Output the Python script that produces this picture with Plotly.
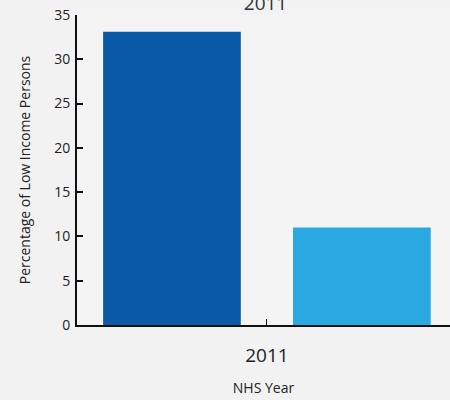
import plotly.graph_objects as go

categories = ["2011"]
series_names = ["Series A", "Series B"]
values_a = [33.1]
values_b = [11.0]
y_ticks = [0, 5, 10, 15, 20, 25, 30, 35]

fig = go.Figure()
fig.add_trace(go.Bar(x=categories, y=values_a, name=series_names[0],
                     marker=dict(color="#0b5aa8", line=dict(width=0))))
fig.add_trace(go.Bar(x=categories, y=values_b, name=series_names[1],
                     marker=dict(color="#2aa8e1", line=dict(width=0))))

font_family = "Open Sans, Lato, sans-serif"
fig.update_layout(
    width=450, height=400,
    margin=dict(l=77, r=0, t=15, b=75),
    paper_bgcolor="#f2f2f2",
    plot_bgcolor="#f4f4f4",
    barmode="group",
    bargap=0,
    bargroupgap=0.275,
    showlegend=False,
    font=dict(family=font_family, color="#222222"),
    title=dict(text="2011", x=0.59, xanchor="center", y=0.992, yanchor="middle",
               font=dict(size=19, color="#333333")),
    xaxis=dict(
        type="category",
        range=[-0.5, 0.482],
        showline=True, linecolor="#111111", linewidth=2,
        ticks="inside", ticklen=6, tickwidth=1, tickcolor="#111111",
        tickfont=dict(size=19, color="#222222"),
        ticklabelstandoff=12,
        showgrid=False, zeroline=False,
        title=dict(text="NHS Year", font=dict(size=14, color="#222222"), standoff=16),
    ),
    yaxis=dict(
        range=[0, 35],
        tickvals=y_ticks,
        showline=True, linecolor="#111111", linewidth=2,
        ticks="inside", ticklen=6, tickwidth=2, tickcolor="#111111",
        tickfont=dict(size=14, color="#222222"),
        ticklabelstandoff=2,
        showgrid=False, zeroline=False,
        title=dict(text="Percentage of Low Income Persons",
                   font=dict(size=14, color="#222222"), standoff=20),
    ),
)

fig.write_html("out.html",
               config={"displayModeBar": False},
               post_script="document.body.style.margin='0';document.body.style.overflow='hidden';")
